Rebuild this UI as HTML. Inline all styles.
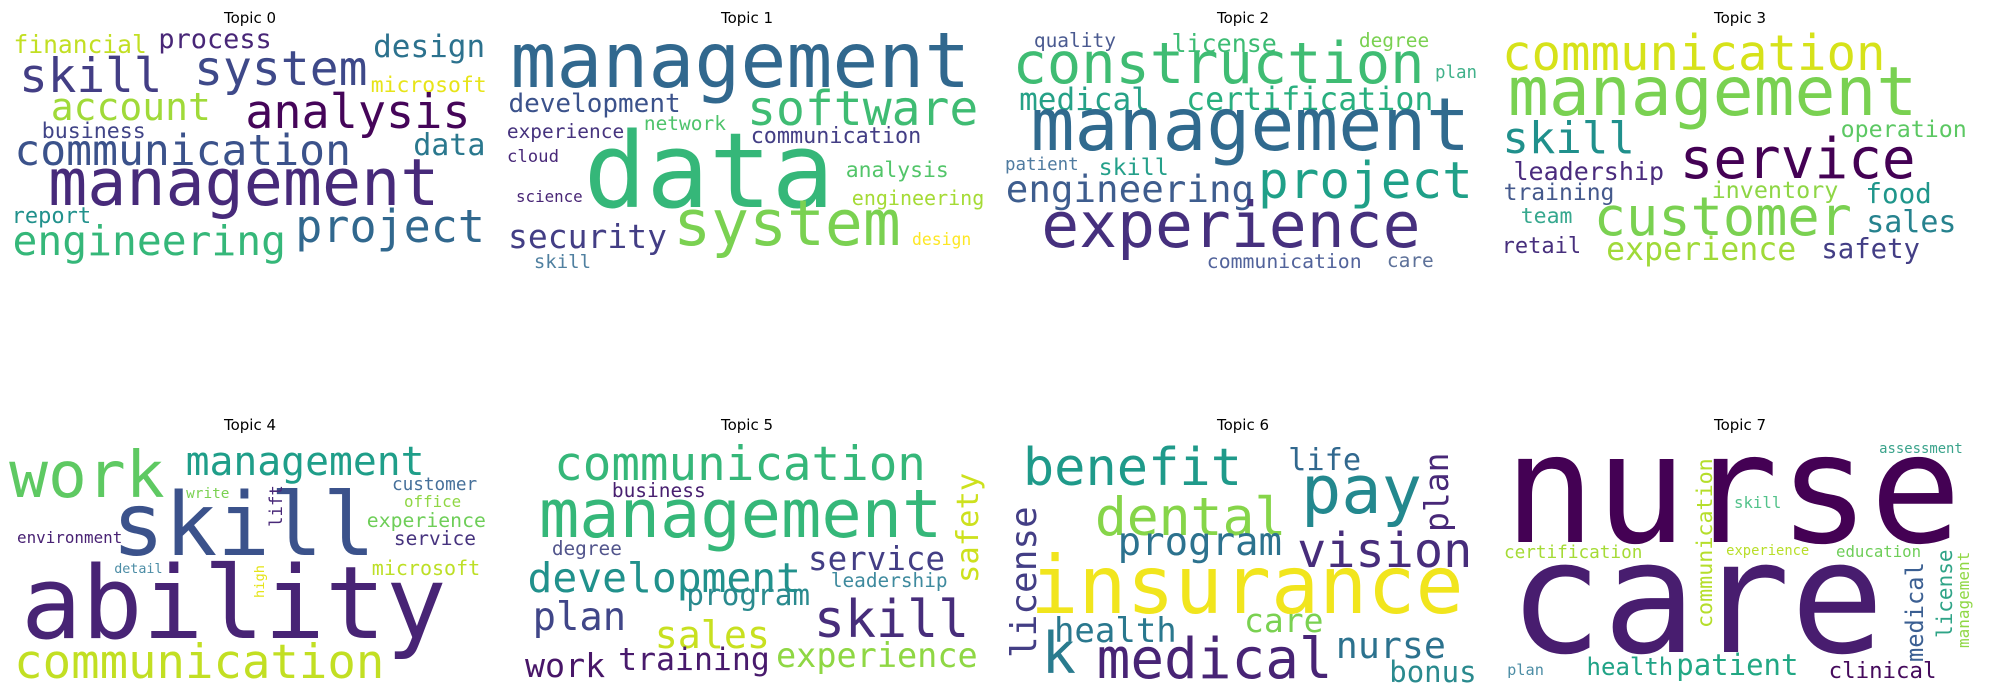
<!DOCTYPE html>
<html><head><meta charset="utf-8"><style>
html,body{margin:0;padding:0;background:#fff;}
svg{display:block;}
.w{font-family:"DejaVu Sans Mono","Liberation Mono",monospace;}
.t{font-family:"DejaVu Sans","Liberation Sans",sans-serif;font-size:15px;fill:#000;}
</style></head><body>
<svg id="chart" width="1990" height="695" viewBox="0 0 1990 695" xmlns="http://www.w3.org/2000/svg"></svg>
<script>
const topicTitles = ["Topic 0","Topic 1","Topic 2","Topic 3","Topic 4","Topic 5","Topic 6","Topic 7"];
const titleCenters = [250,747,1243,1740,250,747,1243,1740];
const titleBaselines = [23,23,23,23,430,430,430,430];
// [word, x, baseline, size, color, vertical]
const topic0 = [["financial",15,53,24.6,"#c2df23"],["process",160,48,26.9,"#482677"],["design",375,57,31,"#2c728e"],["skill",22,92,47.6,"#433e85"],["system",197,85,48,"#3e4989"],["microsoft",372,92,21.4,"#e7e419"],["account",53,120,38,"#a0da39"],["analysis",248,128,46.8,"#450559"],["business",43,138,21.6,"#414487"],["data",415,155,30,"#2a788e"],["communication",17,165,43,"#3b528b"],["management",52,205,65,"#472a7a"],["report",13,223,22,"#21918c"],["project",298,242,45,"#31688e"],["engineering",15,255,41.3,"#35b779"]];
const topic1 = [["management",515,87,76.4,"#31688e"],["development",510,112,26,"#3b528b"],["software",750,125,48,"#3fbc73"],["experience",508,138,19.5,"#46337e"],["network",645,130,19.5,"#4ec36b"],["communication",752,143,21.8,"#433e85"],["cloud",508,162,17.3,"#482878"],["data",590,207,104,"#35b779"],["analysis",847,177,21.4,"#52c569"],["science",517,202,15.8,"#482575"],["engineering",853,205,20,"#a5db36"],["security",510,248,33,"#433e85"],["system",677,245,63,"#7ad151"],["design",913,245,16.4,"#fde725"],["skill",535,268,19,"#5080a0"]];
const topic2 = [["quality",1035,47,19.5,"#4a5a90"],["license",1173,52,25,"#3dbc74"],["degree",1360,47,19.5,"#7ad151"],["construction",1016,83,57,"#3fbc73"],["plan",1436,78,17.5,"#40b18a"],["medical",1021,110,31,"#26a187"],["certification",1188,110,31.6,"#29af7f"],["management",1035,150,73,"#306a8e"],["patient",1006,170,17.5,"#4f7ba0"],["skill",1100,175,23.3,"#25a08a"],["engineering",1008,202,37.5,"#3e5d8e"],["project",1261,198,51,"#1fa088"],["experience",1045,247,63,"#46307e"],["communication",1208,268,19.8,"#52639b"],["care",1388,267,19.5,"#5d7199"]];
const topic3 = [["communication",1505,70,49,"#d6e21a"],["management",1512,115,68,"#79d151"],["skill",1505,153,44,"#20908c"],["operation",1842,137,23.3,"#5cc863"],["service",1683,178,56,"#440154"],["leadership",1515,180,25,"#4a2b7d"],["training",1505,200,23,"#44598c"],["inventory",1713,198,23.4,"#8ed645"],["food",1867,203,27.6,"#1f968b"],["team",1522,223,21.5,"#36a88e"],["customer",1597,235,53.6,"#7ad151"],["sales",1868,232,30,"#26828e"],["retail",1503,253,22,"#472f7d"],["experience",1608,260,31.6,"#a0da39"],["safety",1823,258,27.3,"#433e85"]];
const topic4 = [["work",13,497,64.6,"#5ec962"],["management",188,475,39.7,"#1f9e89"],["skill",117,555,87.6,"#3b528b"],["customer",393,490,17.7,"#46709a"],["write",187,498,14.4,"#7ad151"],["lift",282,527,17.4,"#482878",1],["office",405,507,15.8,"#8fd744"],["experience",368,527,19.8,"#6ece58"],["environment",18,543,15.9,"#482173"],["service",395,545,19.5,"#46337e"],["microsoft",373,575,20,"#bddf26"],["detail",115,573,13.4,"#4b8ca5"],["high",264,598,13.7,"#e5e419",1],["ability",27,638,101,"#482475"],["communication",17,678,47.3,"#c2df23"]];
const topic5 = [["communication",557,480,47.5,"#35b779"],["business",613,497,19.5,"#481f70"],["management",543,537,67,"#35b779"],["safety",978,583,30.5,"#cde11d",1],["degree",553,555,19.4,"#52558c"],["service",810,570,32.5,"#433e85"],["development",530,592,41.3,"#21918c"],["leadership",832,587,19.4,"#3e8a9e"],["program",688,605,29.4,"#2a8a8e"],["plan",535,630,38.8,"#404688"],["skill",817,637,51.6,"#472d7b"],["sales",657,648,38.3,"#c8e020"],["experience",778,667,33.5,"#8fd744"],["work",527,677,33.3,"#481668"],["training",620,670,31.5,"#481a6c"]];
const topic6 = [["benefit",1026,485,52,"#1f9a8a"],["life",1290,470,30.3,"#31688e"],["pay",1305,513,67,"#23888e"],["plan",1448,532,33,"#482878",1],["dental",1098,535,53,"#86d549"],["license",1036,658,36,"#433e85",1],["program",1120,555,39,"#2c728e"],["vision",1300,567,48.5,"#472d7b"],["insurance",1035,613,80,"#f1e51d"],["health",1056,642,34,"#2a788e"],["care",1246,632,33,"#7ad151"],["k",1045,673,57,"#297b8e"],["medical",1100,678,56,"#482475"],["nurse",1338,658,36.6,"#2c728e"],["bonus",1391,682,29,"#2a8a8e"]];
const topic7 = [["nurse",1513,542,152,"#440154"],["assessment",1880,453,13.9,"#3aa38b"],["skill",1735,508,15.7,"#52c28a"],["communication",1712,628,21.7,"#b5de2b",1],["certification",1505,558,17.7,"#a5db36"],["experience",1727,555,13.8,"#b8de29"],["education",1837,557,15.7,"#6ece58"],["medical",1923,662,23.7,"#3b5f92",1],["license",1952,638,21,"#2fa487",1],["management",1969,648,16,"#8fd744",1],["care",1518,652,156,"#481d6f"],["health",1588,675,24,"#20a386"],["patient",1678,675,29,"#22a884"],["plan",1508,675,15.3,"#4c8da5"],["clinical",1830,678,22.4,"#450a5c"]];
const topics = [topic0,topic1,topic2,topic3,topic4,topic5,topic6,topic7];

const NS = "http://www.w3.org/2000/svg";
const svg = document.getElementById("chart");
topics.forEach((words, ti) => {
  const g = document.createElementNS(NS, "g");
  
  
  const title = document.createElementNS(NS, "text");
  title.setAttribute("class", "t");
  title.setAttribute("x", titleCenters[ti]);
  title.setAttribute("y", titleBaselines[ti]);
  title.setAttribute("text-anchor", "middle");
  title.textContent = topicTitles[ti];
  
  
  g.appendChild(title);
  words.forEach(w => {
    const t = document.createElementNS(NS, "text");
    t.setAttribute("class", "w");
    t.setAttribute("font-size", w[3]);
    t.setAttribute("fill", w[4]);
    const len = (w[0].length * 0.602 * w[3]).toFixed(1);
    if (w[5]) {
      t.setAttribute("x", 0);
      t.setAttribute("y", 0);
      t.setAttribute("transform", "translate(" + w[1] + "," + w[2] + ") rotate(-90)");
    } else {
      t.setAttribute("x", w[1] - w[3] * 0.06);
      t.setAttribute("y", w[2]);
    }
    t.textContent = w[0];
    
    
    g.appendChild(t);
  });
  svg.appendChild(g);
});
</script>
</body></html>
